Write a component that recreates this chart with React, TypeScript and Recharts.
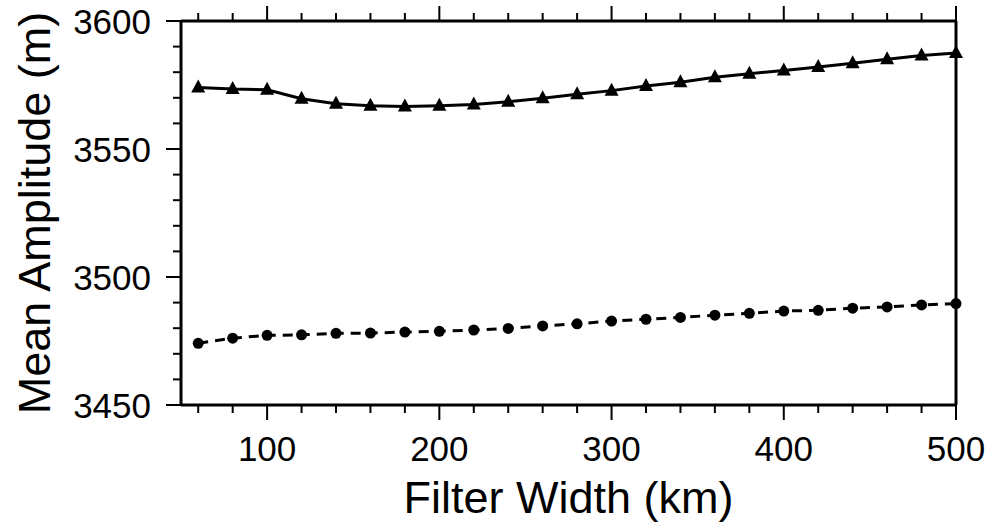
import { Line, LineChart, XAxis, YAxis } from 'recharts';

// Filter width (km) and the two mean-amplitude curves (m)
const filterWidths = [60, 80, 100, 120, 140, 160, 180, 200, 220, 240, 260, 280, 300, 320, 340, 360, 380, 400, 420, 440, 460, 480, 500];
const upperMean = [3574.0, 3573.4, 3573.1, 3569.6, 3567.7, 3566.9, 3566.6, 3566.9, 3567.4, 3568.5, 3569.8, 3571.4, 3572.8, 3574.6, 3576.1, 3578.0, 3579.4, 3580.7, 3582.0, 3583.5, 3585.1, 3586.5, 3587.5];
const lowerMean = [3474.1, 3476.1, 3477.2, 3477.4, 3478.0, 3478.1, 3478.5, 3478.8, 3479.3, 3479.9, 3480.9, 3481.7, 3482.8, 3483.5, 3484.2, 3485.1, 3485.8, 3486.7, 3487.0, 3487.8, 3488.3, 3489.1, 3489.6];

const xTicks = [60, 80, 100, 120, 140, 160, 180, 200, 220, 240, 260, 280, 300, 320, 340, 360, 380, 400, 420, 440, 460, 480, 500];
const xLabelled = [100, 200, 300, 400, 500];
const yTicks = [3450, 3460, 3470, 3480, 3490, 3500, 3510, 3520, 3530, 3540, 3550, 3560, 3570, 3580, 3590, 3600];
const yLabelled = [3450, 3500, 3550, 3600];

const data = filterWidths.map((w, i) => ({ w, upper: upperMean[i], lower: lowerMean[i] }));

const FONT = '"Liberation Sans", Arial, Helvetica, sans-serif';
const MAJOR = 15;
const MINOR = 8;
const frame = { stroke: '#000', strokeWidth: 3 };

// ticks point outward on every side, labels only on bottom and left
function BottomTick({ x, y, payload }: any) {
  const major = xLabelled.includes(payload.value);
  return (
    <g>
      <line x1={x} x2={x} y1={y} y2={y + (major ? MAJOR : MINOR)} stroke="#000" strokeWidth={2} />
      {major && (
        <text x={x} y={y + 43} textAnchor="middle" dominantBaseline="central" fontFamily={FONT} fontSize={35} fill="#000">
          {payload.value}
        </text>
      )}
    </g>
  );
}

function TopTick({ x, y, payload }: any) {
  const major = xLabelled.includes(payload.value);
  return <line x1={x} x2={x} y1={y} y2={y - (major ? MAJOR : MINOR)} stroke="#000" strokeWidth={2} />;
}

function LeftTick({ x, y, payload }: any) {
  const major = yLabelled.includes(payload.value);
  return (
    <g>
      <line x1={x} x2={x - (major ? MAJOR : MINOR)} y1={y} y2={y} stroke="#000" strokeWidth={2} />
      {major && (
        <text x={x - 30} y={y} textAnchor="end" dominantBaseline="central" fontFamily={FONT} fontSize={35} fill="#000">
          {payload.value}
        </text>
      )}
    </g>
  );
}

function RightTick({ x, y, payload }: any) {
  const major = yLabelled.includes(payload.value);
  return <line x1={x} x2={x + (major ? MAJOR : MINOR)} y1={y} y2={y} stroke="#000" strokeWidth={2} />;
}

function Triangle({ cx, cy }: any) {
  if (cx == null || cy == null) return null;
  return <polygon points={`${cx - 7},${cy + 5} ${cx + 7},${cy + 5} ${cx},${cy - 8}`} fill="#000" />;
}

function YTitle({ viewBox }: any) {
  const cx = viewBox.x + 34;
  const cy = viewBox.y + viewBox.height / 2;
  return (
    <text x={cx} y={cy} transform={`rotate(-90 ${cx} ${cy})`} textAnchor="middle" dominantBaseline="central" fontFamily={FONT} fontSize={45} fill="#000">
      Mean Amplitude (m)
    </text>
  );
}

function XTitle({ viewBox }: any) {
  const cx = viewBox.x + viewBox.width / 2;
  return (
    <text x={cx} y={viewBox.y + 92} textAnchor="middle" dominantBaseline="central" fontFamily={FONT} fontSize={45} fill="#000">
      Filter Width (km)
    </text>
  );
}

export default function App() {
  return (
    <div style={{ position: 'absolute', left: 0, top: 0, background: '#fff' }}>
      <LineChart width={993} height={527} data={data} margin={{ top: 0, right: 0, bottom: 0, left: 0 }}>
        <XAxis
          dataKey="w"
          type="number"
          domain={[50, 500]}
          ticks={xTicks}
          interval={0}
          height={122}
          tickSize={0}
          tickMargin={0}
          tickLine={false}
          tick={BottomTick}
          axisLine={frame}
          label={<XTitle />}
        />
        <XAxis
          xAxisId="top"
          orientation="top"
          dataKey="w"
          type="number"
          domain={[50, 500]}
          ticks={xTicks}
          interval={0}
          height={21}
          tickSize={0}
          tickMargin={0}
          tickLine={false}
          tick={TopTick}
          axisLine={frame}
        />
        <YAxis
          type="number"
          domain={[3450, 3600]}
          ticks={yTicks}
          interval={0}
          width={181}
          tickSize={0}
          tickMargin={0}
          tickLine={false}
          tick={LeftTick}
          axisLine={frame}
          label={<YTitle />}
        />
        <YAxis
          yAxisId="right"
          orientation="right"
          type="number"
          domain={[3450, 3600]}
          ticks={yTicks}
          interval={0}
          width={37}
          tickSize={0}
          tickMargin={0}
          tickLine={false}
          tick={RightTick}
          axisLine={frame}
        />
        <Line
          type="linear"
          dataKey="upper"
          stroke="#000"
          strokeWidth={3}
          dot={Triangle}
          activeDot={false}
          isAnimationActive={false}
        />
        <Line
          type="linear"
          dataKey="lower"
          stroke="#000"
          strokeWidth={3}
          strokeDasharray="10 7"
          dot={{ r: 5.5, fill: '#000', stroke: 'none' }}
          activeDot={false}
          isAnimationActive={false}
        />
      </LineChart>
    </div>
  );
}
